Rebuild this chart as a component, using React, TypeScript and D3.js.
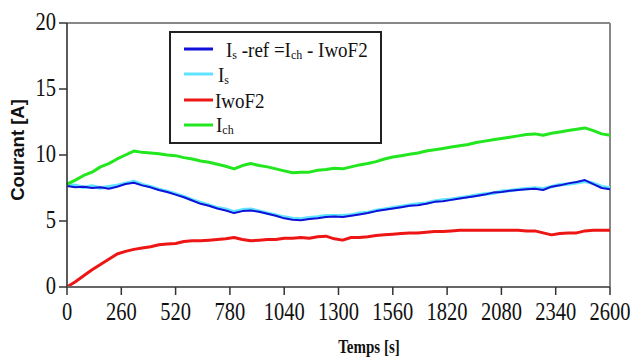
import React from "react";
import * as d3 from "d3";

const times = [0,40,80,120,160,200,240,280,320,360,400,440,480,520,560,600,640,680,720,760,800,840,880,920,960,1000,1040,1080,1120,1160,1200,1240,1280,1320,1360,1400,1440,1480,1520,1560,1600,1640,1680,1720,1760,1800,1840,1880,1920,1960,2000,2040,2080,2120,2160,2200,2240,2280,2320,2360,2400,2440,2480,2520,2560,2600];

const ich = [7.8,8.1,8.45,8.7,9.1,9.35,9.7,10.0,10.3,10.2,10.15,10.1,10.0,9.95,9.8,9.7,9.55,9.45,9.3,9.15,8.95,9.2,9.35,9.2,9.1,8.95,8.8,8.65,8.7,8.7,8.85,8.9,9.0,8.95,9.1,9.25,9.35,9.5,9.7,9.85,9.95,10.05,10.15,10.3,10.4,10.5,10.6,10.7,10.8,10.95,11.05,11.15,11.25,11.35,11.45,11.55,11.6,11.5,11.65,11.75,11.85,11.95,12.05,11.85,11.6,11.5];

const isRef = [7.65,7.55,7.6,7.5,7.55,7.45,7.6,7.8,7.9,7.7,7.55,7.35,7.2,7.0,6.8,6.55,6.3,6.15,5.95,5.8,5.6,5.75,5.8,5.7,5.55,5.4,5.2,5.1,5.05,5.15,5.2,5.3,5.35,5.3,5.4,5.5,5.6,5.75,5.85,5.95,6.05,6.15,6.2,6.3,6.45,6.5,6.6,6.7,6.8,6.9,7.0,7.15,7.2,7.3,7.35,7.4,7.45,7.35,7.6,7.7,7.85,7.95,8.1,7.8,7.5,7.4];

const isMeas = [7.75,7.7,7.55,7.65,7.5,7.6,7.7,7.85,8.0,7.75,7.6,7.4,7.25,7.05,6.85,6.6,6.4,6.2,6.0,5.9,5.7,5.85,5.9,5.75,5.6,5.45,5.3,5.2,5.15,5.25,5.3,5.4,5.4,5.4,5.45,5.6,5.65,5.8,5.9,6.0,6.1,6.2,6.3,6.35,6.5,6.6,6.65,6.75,6.85,6.95,7.05,7.1,7.25,7.3,7.4,7.45,7.5,7.45,7.6,7.75,7.8,7.9,8.0,7.85,7.6,7.5];

const iwoF2 = [0,0.4,0.85,1.3,1.7,2.1,2.5,2.7,2.85,2.95,3.05,3.2,3.25,3.3,3.45,3.5,3.5,3.55,3.6,3.65,3.75,3.6,3.5,3.55,3.6,3.6,3.7,3.7,3.75,3.7,3.8,3.85,3.65,3.55,3.75,3.75,3.8,3.9,3.95,4.0,4.05,4.1,4.1,4.15,4.2,4.2,4.25,4.3,4.3,4.3,4.3,4.3,4.3,4.3,4.3,4.25,4.25,4.1,3.95,4.05,4.1,4.1,4.25,4.3,4.3,4.3];

const xTicks = [0,260,520,780,1040,1300,1560,1820,2080,2340,2600];
const yTicks = [0,5,10,15,20];

const W = 631, H = 358;
const left = 67, right = 610, top = 23, bottom = 287;
const serif = "'Liberation Serif', 'Times New Roman', serif";

function SText({ x, y, sy = 1.28, size = 20.5, anchor = "start", weight = "normal", children }: any) {
  return (
    <text
      transform={`translate(${x},${y}) scale(1,${sy})`}
      fontFamily={serif}
      fontSize={size}
      fontWeight={weight}
      textAnchor={anchor}
      fill="#111"
    >
      {children}
    </text>
  );
}

export default function App() {
  const x = d3.scaleLinear().domain([0, 2600]).range([left, right]);
  const y = d3.scaleLinear().domain([0, 20]).range([bottom, top]);
  const mk = (vals: number[]) =>
    d3.line<number>().x((_, i) => x(times[i])).y((d) => y(d))(vals) || "";

  const series = [
    { vals: isMeas, color: "#5fe3ff", w: 3.4 },
    { vals: isRef, color: "#1010d8", w: 2 },
    { vals: iwoF2, color: "#ee1515", w: 3 },
    { vals: ich, color: "#22e61e", w: 3 },
  ];

  const legend = [
    { color: "#1010d8", ly: 49 },
    { color: "#5fe3ff", ly: 74 },
    { color: "#ee1515", ly: 100 },
    { color: "#22e61e", ly: 125 },
  ];

  return (
    <svg width={W} height={H} style={{ position: "absolute", left: 0, top: 0, background: "#fff" }}>
      <rect x={0} y={0} width={W} height={H} fill="#fff" />
      <line x1={left} x2={right} y1={top} y2={top} stroke="#888" strokeWidth={2} />
      <line x1={right} x2={right} y1={top} y2={bottom} stroke="#888" strokeWidth={2} />
      {series.map((s, i) => (
        <path key={i} d={mk(s.vals)} fill="none" stroke={s.color} strokeWidth={s.w} strokeLinejoin="round" />
      ))}
      <line x1={left} x2={left} y1={top} y2={bottom} stroke="#333" strokeWidth={1.6} />
      <line x1={left} x2={right} y1={bottom} y2={bottom} stroke="#666" strokeWidth={2} />
      {yTicks.map((t) => (
        <g key={t}>
          <line x1={left - 8} x2={left} y1={y(t)} y2={y(t)} stroke="#333" strokeWidth={1.5} />
          <SText x={56} y={y(t) + 7} anchor="end">{t}</SText>
        </g>
      ))}
      {xTicks.map((t) => (
        <g key={t}>
          <line x1={x(t)} x2={x(t)} y1={bottom} y2={bottom + 8} stroke="#333" strokeWidth={1.5} />
          <SText x={x(t)} y={320} anchor="middle">{t}</SText>
        </g>
      ))}
      <text
        transform={`translate(24,150) rotate(-90)`}
        fontFamily="'Liberation Sans', Arial, sans-serif"
        fontWeight="bold"
        fontSize={18.5}
        textAnchor="middle"
        fill="#111"
      >
        Courant [A]
      </text>
      <SText x={369} y={353} size={15} sy={1.32} anchor="middle" weight="bold">Temps [s]</SText>
      <rect x={170} y={32} width={211} height={111} fill="#fff" stroke="#222" strokeWidth={2} />
      {legend.map((l, i) => (
        <line key={i} x1={184} x2={213} y1={l.ly} y2={l.ly} stroke={l.color} strokeWidth={3} />
      ))}
      <SText x={226} y={57} size={19} sy={1.12}>
        I<tspan fontSize={12} dy={2}>s</tspan><tspan dy={-2}> -ref =I</tspan><tspan fontSize={12} dy={2}>ch</tspan><tspan dy={-2}> - IwoF2</tspan>
      </SText>
      <SText x={218} y={82} size={19} sy={1.12}>
        I<tspan fontSize={12} dy={2}>s</tspan>
      </SText>
      <SText x={215} y={108} size={19} sy={1.12}>IwoF2</SText>
      <SText x={216} y={132} size={19} sy={1.12}>
        I<tspan fontSize={12} dy={2}>ch</tspan>
      </SText>
    </svg>
  );
}
